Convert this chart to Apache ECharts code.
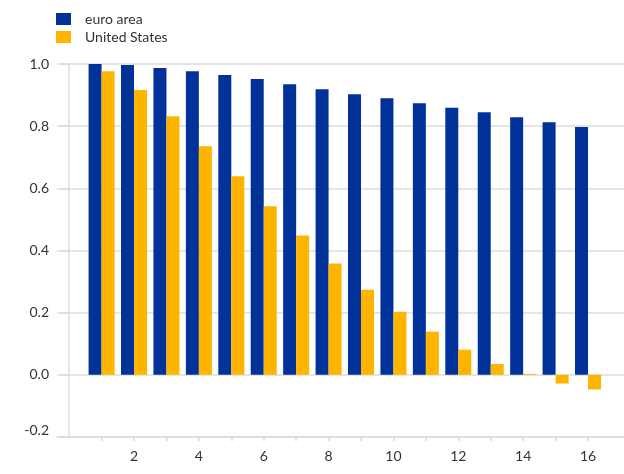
<!DOCTYPE html>
<html>
<head>
<meta charset="utf-8">
<script src="https://cdn.jsdelivr.net/npm/echarts@6/dist/echarts.min.js"></script>
<style>
  html, body { margin: 0; padding: 0; background: #fff; }
  #chart { width: 624px; height: 474px; }
</style>
</head>
<body>
<div id="chart"></div>
<script>
// horizons 1..16
const horizons = [1, 2, 3, 4, 5, 6, 7, 8, 9, 10, 11, 12, 13, 14, 15, 16]
const euroArea = [1.0, 0.997, 0.987, 0.977, 0.965, 0.952, 0.935, 0.919, 0.903, 0.89, 0.874, 0.859, 0.845, 0.829, 0.813, 0.797]
const unitedStates = [0.977, 0.916, 0.832, 0.735, 0.639, 0.542, 0.448, 0.358, 0.274, 0.203, 0.139, 0.081, 0.035, 0.003, -0.028, -0.047]
const xLabelValues = [2, 4, 6, 8, 10, 12, 14, 16]

const font = 'Lato'
const gridColor = '#dcdcdc'

const chart = echarts.init(document.getElementById('chart'))

const toPairs = (vals) => horizons.map((h, i) => [h, vals[i]])

const option = {
  animation: false,
  textStyle: { fontFamily: font },
  legend: {
    orient: 'vertical',
    left: 56,
    top: 12,
    padding: 0,
    itemWidth: 15,
    itemHeight: 12,
    itemGap: 4,
    icon: 'rect',
    textStyle: { fontSize: 14, color: '#333', fontFamily: font, padding: [0, 0, 0, 9] },
    data: ['euro area', 'United States']
  },
  grid: { left: 57, right: 0, top: 64, bottom: 37 },
  xAxis: {
    type: 'value',
    min: -0.375,
    max: 17.11,
    splitLine: { show: false },
    axisLine: { show: true, onZero: false, lineStyle: { color: gridColor, width: 1.5 } },
    axisTick: { show: true, length: 4, customValues: horizons, lineStyle: { color: gridColor, width: 1.5 } },
    axisLabel: { customValues: xLabelValues, margin: 12, fontSize: 14, color: '#333', fontFamily: font }
  },
  yAxis: {
    type: 'value',
    min: -0.2,
    max: 1.0,
    interval: 0.2,
    axisLine: { show: true, lineStyle: { color: gridColor, width: 1.5 } },
    axisTick: { show: true, length: 9, lineStyle: { color: gridColor, width: 1.5 } },
    splitLine: { lineStyle: { color: gridColor, width: 1.5 } },
    axisLabel: {
      margin: 8,
      fontSize: 14,
      color: '#333',
      fontFamily: font,
      formatter: function (v) {
        const s = v.toFixed(1)
        return v < -0.1 ? '{low|' + s + '}' : s
      },
      rich: { low: { padding: [0, 0, 14, 0], fontSize: 14, color: '#333', fontFamily: font } }
    }
  },
  series: [
    {
      name: 'euro area',
      type: 'bar',
      data: toPairs(euroArea),
      barWidth: 13,
      barGap: '0%',
      itemStyle: { color: '#003299' }
    },
    {
      name: 'United States',
      type: 'bar',
      data: toPairs(unitedStates),
      barWidth: 13,
      barGap: '0%',
      itemStyle: { color: '#ffb400' }
    }
  ]
}

chart.setOption(option)
</script>
</body>
</html>
